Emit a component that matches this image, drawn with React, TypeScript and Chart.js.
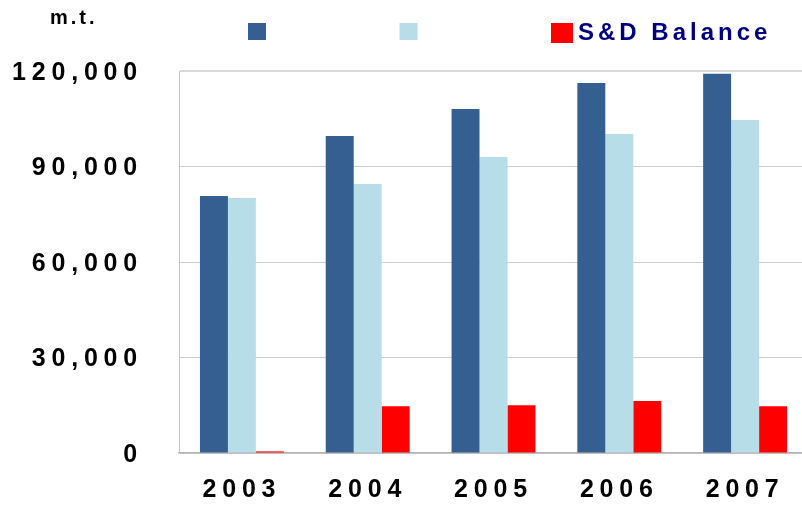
import React, { useEffect, useRef } from 'react';
import { Chart, registerables } from 'chart.js';

Chart.register(...registerables);

// ---- data ----
const years = ['2003', '2004', '2005', '2006', '2007'];
const seriesDark = [80700, 99600, 108100, 116200, 119100];
const seriesLight = [80100, 84500, 93000, 100200, 104600];
const sdBalance = [500, 14700, 15000, 16300, 14700];
const seriesLabels = ['', '', 'S&D Balance'];
const yTickValues = [0, 30000, 60000, 90000, 120000];
const unitLabel = 'm.t.';

const FONT = '"Liberation Sans", Arial, Helvetica, sans-serif';
const COLORS = ['#365F91', '#B7DDE8', '#FF0000'];
const TICK_SPACING = '5.8px';

const sketchLegend = {
  id: 'sketchLegend',
  beforeUpdate(chart: any) {
    (chart.ctx as any).letterSpacing = TICK_SPACING;
  },
  beforeDraw(chart: any) {
    (chart.ctx as any).letterSpacing = TICK_SPACING;
  },
  afterDraw(chart: any, _args: any, opts: any) {
    const ctx = chart.ctx as any;
    ctx.save();
    chart.data.datasets.forEach((ds: any, i: number) => {
      const x = opts.startX + i * opts.step;
      const size = opts.boxSizes[i];
      ctx.fillStyle = ds.backgroundColor;
      ctx.fillRect(x, opts.boxTop, size[0], size[1]);
      if (ds.label) {
        ctx.font = `bold 24px ${FONT}`;
        ctx.letterSpacing = '4px';
        ctx.fillStyle = '#000080';
        ctx.textAlign = 'left';
        ctx.textBaseline = 'alphabetic';
        ctx.fillText(ds.label, x + size[0] + 5, opts.textBaseline);
      }
    });
    ctx.font = `bold 20px ${FONT}`;
    ctx.letterSpacing = '3px';
    ctx.fillStyle = '#000000';
    ctx.textAlign = 'left';
    ctx.textBaseline = 'alphabetic';
    ctx.fillText(unitLabel, opts.unitX, opts.unitY);
    ctx.restore();
    ctx.letterSpacing = TICK_SPACING;
  },
};

export default function App() {
  const ref = useRef<HTMLCanvasElement | null>(null);

  useEffect(() => {
    if (!ref.current) return;
    const chart = new Chart(ref.current, {
      type: 'bar',
      data: {
        labels: years,
        datasets: [
          { label: seriesLabels[0], data: seriesDark, backgroundColor: COLORS[0] },
          { label: seriesLabels[1], data: seriesLight, backgroundColor: COLORS[1] },
          { label: seriesLabels[2], data: sdBalance, backgroundColor: COLORS[2] },
        ],
      },
      options: {
        responsive: false,
        animation: false,
        devicePixelRatio: 1,
        layout: { padding: { top: 71, left: 0, right: 0, bottom: 0 } },
        datasets: {
          bar: { categoryPercentage: 0.667, barPercentage: 1.0, borderWidth: 0 },
        },
        plugins: {
          legend: { display: false },
          tooltip: { enabled: false },
          sketchLegend: {
            startX: 248,
            step: 151.5,
            boxTop: 23,
            boxSizes: [[18, 17], [18, 17], [22, 20]],
            textBaseline: 39.5,
            unitX: 50,
            unitY: 24,
          },
        } as any,
        scales: {
          x: {
            grid: { display: false, drawTicks: false },
            border: { display: true, color: '#b5b5b5', width: 1.5 },
            ticks: {
              color: '#000000',
              font: { family: FONT, size: 25, weight: 'bold' },
              padding: 22,
              maxRotation: 0,
              autoSkip: false,
            },
            afterFit(scale: any) {
              scale.height = 54;
            },
          },
          y: {
            min: 0,
            max: 120000,
            afterBuildTicks(scale: any) {
              scale.ticks = yTickValues.map((v) => ({ value: v }));
            },
            grid: {
              drawTicks: false,
              color: (c: any) => (c.tick && c.tick.value === 120000 ? '#d9d9d9' : '#cccccc'),
              lineWidth: (c: any) => (c.tick && c.tick.value === 120000 ? 2 : 1),
            },
            border: { display: true, color: '#c4c4c4', width: 1 },
            ticks: {
              color: '#000000',
              font: { family: FONT, size: 25, weight: 'bold' },
              padding: 36,
              labelOffset: 2,
              callback: (v: any) => Number(v).toLocaleString('en-US'),
            },
            afterFit(scale: any) {
              scale.width = 179;
            },
          },
        },
      },
      plugins: [sketchLegend],
    });
    return () => chart.destroy();
  }, []);

  return (
    <div
      style={{
        position: 'fixed',
        left: 0,
        top: 0,
        width: 802,
        height: 507,
        overflow: 'hidden',
        background: '#ffffff',
      }}
    >
      <canvas ref={ref} width={808} height={507} style={{ display: 'block' }} />
    </div>
  );
}
